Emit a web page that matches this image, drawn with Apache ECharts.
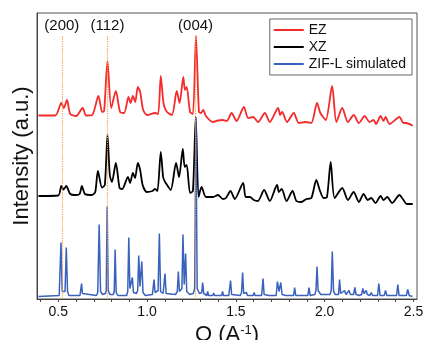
<!DOCTYPE html>
<html>
<head>
<meta charset="utf-8">
<script src="https://cdn.jsdelivr.net/npm/echarts@6/dist/echarts.min.js"></script>
<style>
  html, body { margin: 0; padding: 0; background: #fff; }
  #main { width: 427px; height: 340px; }
</style>
</head>
<body>
<div id="main"></div>
<script>
// [Q (A^-1), intensity above the pattern's own offset]  (a.u.)
const ezPattern = [
  [0.388, 10.5], [0.483, 10.5], [0.517, 23], [0.531, 18], [0.549, 26], [0.567, 12], [0.601, 10],
  [0.637, 18], [0.657, 10.5], [0.691, 11], [0.726, 30], [0.747, 14], [0.758, 15], [0.777, 65],
  [0.798, 18], [0.824, 35], [0.848, 14], [0.871, 13], [0.895, 29], [0.907, 23], [0.920, 30],
  [0.933, 24], [0.948, 39], [0.961, 34], [0.978, 16], [1.000, 11], [1.045, 13], [1.062, 12],
  [1.077, 50], [1.090, 26], [1.096, 20], [1.112, 14], [1.140, 11], [1.167, 35], [1.183, 23],
  [1.204, 49], [1.213, 36], [1.223, 39], [1.242, 14], [1.258, 12], [1.275, 90], [1.292, 14],
  [1.303, 13], [1.316, 16], [1.331, 10], [1.371, 4], [1.399, 5.5], [1.427, 6], [1.449, 5],
  [1.476, 13], [1.504, 5], [1.545, 19], [1.569, 8], [1.597, 9], [1.625, 4], [1.663, 13],
  [1.691, 4], [1.738, 18], [1.749, 11], [1.760, 14], [1.788, 4], [1.826, 13], [1.854, 3],
  [1.893, 4], [1.925, 3], [1.957, 23], [1.976, 13], [2.006, 6], [2.042, 40], [2.066, 4],
  [2.099, 18], [2.131, 4], [2.164, 11], [2.193, 3], [2.225, 10], [2.253, 4], [2.275, 6],
  [2.290, 2], [2.315, 10], [2.331, 5], [2.343, 9], [2.365, 2], [2.421, 9], [2.444, 3],
  [2.459, 3], [2.496, 0.3]
];
const xzPattern = [
  [0.388, 9], [0.500, 9.5], [0.517, 19], [0.530, 15.5], [0.545, 19], [0.567, 11], [0.600, 10],
  [0.620, 11], [0.633, 19], [0.650, 11], [0.689, 10], [0.708, 13], [0.723, 34], [0.746, 17.5],
  [0.762, 20], [0.777, 70], [0.790, 30], [0.802, 23], [0.824, 42], [0.845, 17], [0.860, 16],
  [0.892, 28], [0.904, 22], [0.920, 32], [0.932, 27], [0.948, 42], [0.961, 35], [0.975, 20],
  [0.998, 13], [1.030, 14], [1.045, 16], [1.058, 14], [1.077, 53], [1.090, 28], [1.096, 25],
  [1.105, 22], [1.133, 15], [1.163, 42], [1.180, 28], [1.201, 56], [1.212, 38], [1.223, 40],
  [1.242, 12], [1.258, 14], [1.274, 88], [1.290, 8], [1.307, 18], [1.331, 8], [1.371, 8],
  [1.399, 10], [1.427, 6], [1.444, 7], [1.470, 14], [1.494, 6], [1.541, 22], [1.555, 8],
  [1.579, 8], [1.601, 5], [1.624, 4], [1.659, 15], [1.691, 4], [1.732, 20], [1.742, 13],
  [1.758, 16], [1.785, 4], [1.819, 14], [1.841, 4], [1.869, 3], [1.897, 6], [1.925, 7],
  [1.953, 25], [1.972, 15], [1.994, 7], [2.013, 8], [2.034, 43], [2.056, 7], [2.099, 17],
  [2.131, 5], [2.163, 13], [2.193, 3], [2.219, 11], [2.243, 5], [2.262, 7], [2.287, 2],
  [2.315, 9], [2.331, 5], [2.352, 8], [2.380, 2], [2.421, 10], [2.444, 5], [2.462, 1], [2.496, 1]
];
const zifPattern = [
  [0.388, 0], [0.505, 1], [0.510, 3], [0.515, 54], [0.522, 5], [0.530, 3], [0.538, 5], [0.545, 49],
  [0.552, 5], [0.560, 1], [0.622, 1], [0.627, 3], [0.631, 13], [0.636, 3], [0.642, 1], [0.715, 1],
  [0.722, 4], [0.730, 72], [0.738, 5], [0.750, 2], [0.765, 3], [0.770, 6], [0.775, 90], [0.781, 6],
  [0.790, 2], [0.810, 2], [0.815, 5], [0.820, 47], [0.826, 4], [0.835, 1], [0.885, 1], [0.891, 5],
  [0.897, 59], [0.903, 8], [0.910, 6], [0.917, 19], [0.923, 4], [0.940, 3], [0.947, 6], [0.953, 41],
  [0.960, 10], [0.964, 10], [0.970, 35], [0.977, 4], [0.990, 1], [1.030, 2], [1.035, 4], [1.039, 17],
  [1.045, 4], [1.055, 3], [1.062, 6], [1.069, 63], [1.076, 5], [1.090, 3], [1.096, 5], [1.101, 23],
  [1.107, 3], [1.160, 2], [1.170, 5], [1.176, 25], [1.182, 5], [1.190, 4], [1.196, 8], [1.202, 62],
  [1.209, 12], [1.217, 43], [1.223, 5], [1.240, 2], [1.260, 3], [1.268, 8], [1.275, 178], [1.282, 8],
  [1.295, 3], [1.308, 4], [1.313, 14], [1.319, 3], [1.336, 1], [1.341, 5], [1.346, 1], [1.370, 1],
  [1.375, 3.5], [1.380, 1], [1.420, 1], [1.425, 5], [1.430, 1], [1.460, 1], [1.465, 3], [1.470, 16],
  [1.476, 2], [1.525, 1], [1.532, 4], [1.538, 24], [1.544, 3], [1.555, 1], [1.560, 4], [1.565, 1],
  [1.598, 1], [1.603, 4], [1.608, 1], [1.645, 1], [1.649, 3], [1.653, 18], [1.659, 2], [1.686, 1],
  [1.691, 3], [1.696, 1], [1.727, 1], [1.730, 3], [1.734, 15], [1.743, 5], [1.753, 14], [1.760, 2],
  [1.780, 1], [1.785, 3], [1.790, 1], [1.825, 1], [1.831, 9], [1.837, 1], [1.855, 1], [1.860, 3],
  [1.865, 1], [1.905, 1], [1.912, 9], [1.918, 1], [1.945, 2], [1.951, 6], [1.957, 30], [1.963, 6],
  [1.972, 6], [1.978, 2], [2.030, 2], [2.037, 6], [2.043, 45], [2.050, 5], [2.060, 2], [2.078, 2],
  [2.084, 17], [2.090, 3], [2.100, 2], [2.112, 6], [2.120, 2], [2.137, 6], [2.145, 2], [2.163, 2],
  [2.170, 9], [2.177, 2], [2.195, 1], [2.208, 2], [2.215, 8], [2.222, 3], [2.234, 6], [2.240, 2],
  [2.255, 1], [2.262, 4], [2.270, 1], [2.298, 1], [2.305, 13], [2.312, 1], [2.335, 1], [2.343, 6],
  [2.350, 1], [2.405, 1], [2.412, 12], [2.419, 1], [2.460, 1], [2.468, 7], [2.476, 1], [2.494, 0]
];

const seriesNames = ['EZ', 'XZ', 'ZIF-L simulated'];
const seriesOffsets = [173, 94, 2.5];
const seriesColors = ['#f52a2a', '#000000', '#3a62bd'];

// reflections marked with dotted lines
const peakQ = [0.52, 0.777, 1.273];
const peakLabels = ['(200)', '(112)', '(004)'];

const xTicks = [0.4, 0.5, 0.6, 0.7, 0.8, 0.9, 1.0, 1.1, 1.2, 1.3, 1.4, 1.5, 1.6, 1.7, 1.8, 1.9, 2.0, 2.1, 2.2, 2.3, 2.4, 2.5];
const xLabels = [0.5, 1.0, 1.5, 2.0, 2.5];

const font = "'Liberation Sans', Arial, sans-serif";
const chart = echarts.init(document.getElementById('main'));

const patterns = [ezPattern, xzPattern, zifPattern];
const series = patterns.map((pat, i) => ({
  name: seriesNames[i],
  type: 'line',
  symbol: 'none',
  smooth: i < 2 ? 0.25 : false,
  data: pat.map(p => [p[0], p[1] + seriesOffsets[i]]),
  lineStyle: { color: seriesColors[i], width: i < 2 ? 1.8 : 1.5 },
  itemStyle: { color: seriesColors[i] },
  z: 2 + i
}));

// dotted guide lines with hkl labels
series[2].markLine = {
  silent: true,
  symbol: ['none', 'none'],
  lineStyle: { color: '#f4a04c', type: 'dotted', width: 1.2 },
  label: {
    show: true, position: 'end', distance: 2, formatter: '{b}',
    color: '#111', fontSize: 15, fontFamily: font
  },
  data: peakQ.map((q, i) => [{ name: peakLabels[i], coord: [q, 0] }, { coord: [q, 264] }])
};

chart.setOption({
  animation: false,
  grid: {
    left: 37, right: 10, top: 13, bottom: 41, outerBoundsMode: 'none',
    show: true, borderColor: '#555', borderWidth: 1
  },
  legend: {
    data: seriesNames.map(n => ({ name: n, icon: 'rect' })),
    orient: 'vertical',
    right: 15, top: 19,
    backgroundColor: '#fff',
    borderColor: '#666', borderWidth: 1, borderRadius: 0,
    padding: [3, 6, 3, 4],
    itemGap: 1, itemWidth: 30, itemHeight: 2,
    textStyle: { fontSize: 14, color: '#111', fontFamily: font, lineHeight: 16 }
  },
  xAxis: {
    type: 'value', min: 0.38, max: 2.52,
    name: 'Q (A{sup|-1})', nameLocation: 'middle', nameGap: 21,
    nameTextStyle: {
      fontSize: 22, color: '#111', fontFamily: font,
      rich: { sup: { fontSize: 13, verticalAlign: 'top', padding: [0, 0, 10, 0], fontFamily: font, color: '#111' } }
    },
    axisLine: { lineStyle: { color: '#444' } },
    axisTick: { customValues: xTicks, length: 3, lineStyle: { color: '#444' } },
    axisLabel: {
      customValues: xLabels, formatter: v => v.toFixed(1),
      fontSize: 14, color: '#111', margin: 6, fontFamily: font
    },
    splitLine: { show: false }
  },
  yAxis: {
    type: 'value', min: 0, max: 286,
    name: 'Intensity (a.u.)', nameLocation: 'middle', nameGap: 4,
    nameTextStyle: { fontSize: 22, color: '#111', fontFamily: font },
    axisLine: { show: true, lineStyle: { color: '#444' } },
    axisTick: { show: false },
    axisLabel: { show: false },
    splitLine: { show: false }
  },
  series: series
});
</script>
</body>
</html>
